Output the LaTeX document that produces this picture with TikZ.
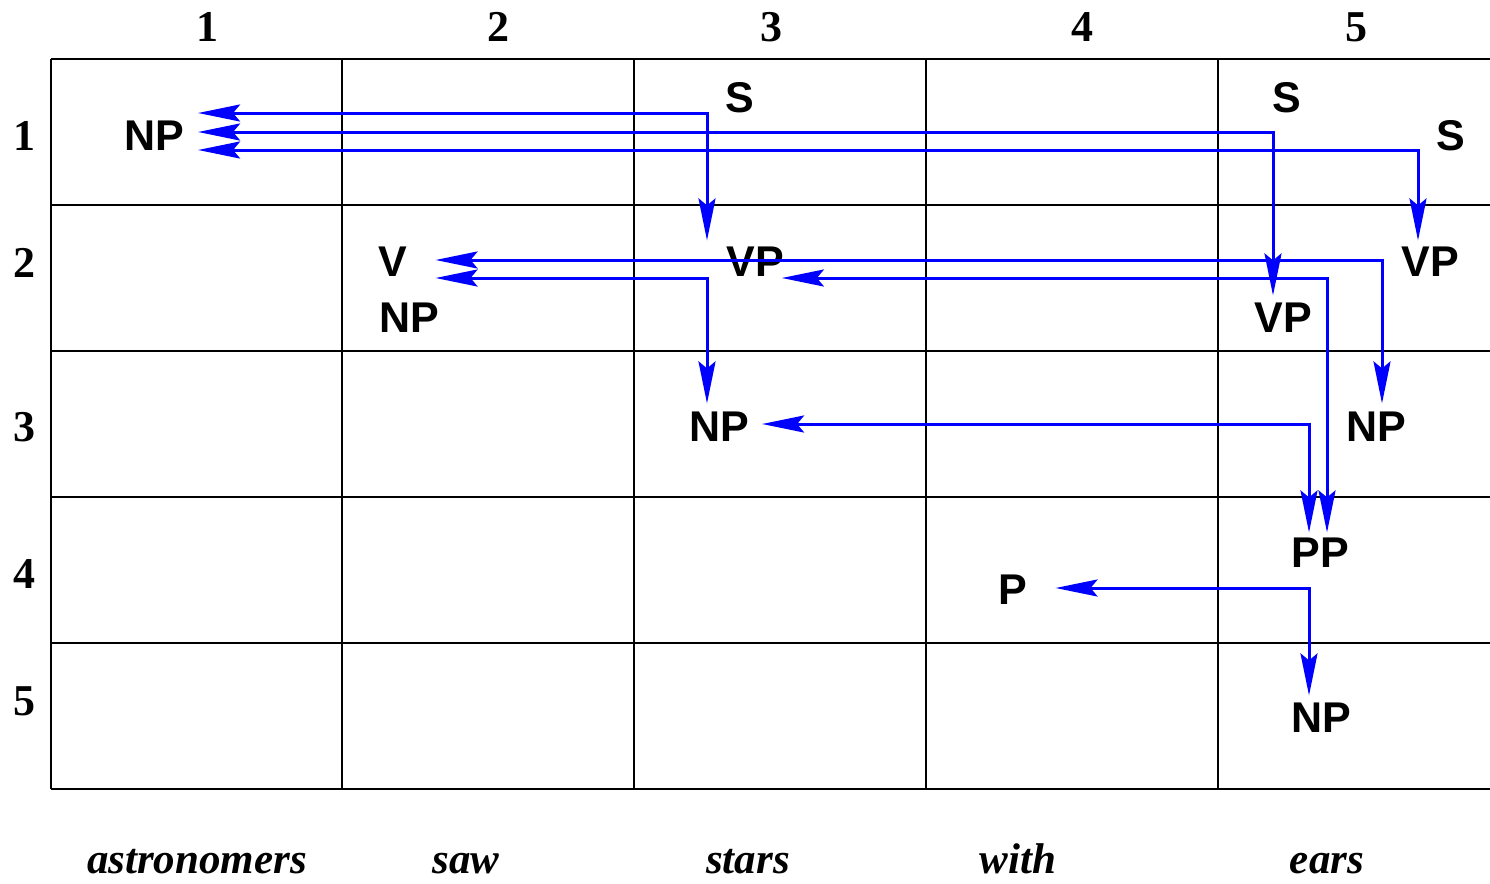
\documentclass[tikz,border=0pt]{standalone}
\usepackage{fontspec}
\setmainfont{Liberation Serif}
\newfontfamily\labfont{Liberation Sans}
\usetikzlibrary{arrows.meta}
\begin{document}
\begin{tikzpicture}[x=1pt,y=-1pt,
  gridline/.style={line width=1.4pt,black},
  cat/.style={font=\labfont\bfseries\fontsize{43}{43}\selectfont, inner sep=0pt},
  idx/.style={font=\bfseries\fontsize{44}{44}\selectfont, inner sep=0pt},
  word/.style={font=\bfseries\itshape\fontsize{43}{43}\selectfont, inner sep=0pt, anchor=base},
  link/.style={draw=blue, line width=3pt, line join=miter,
    {Stealth[length=42pt,width=17pt,inset=7pt]}-{Stealth[length=42pt,width=17pt,inset=7pt]}}
]
\useasboundingbox (0,0) rectangle (1490,883);
% grid
\foreach \x in {51,342,634,926,1218} \draw[gridline] (\x,59) -- (\x,789);
\foreach \y in {59,205,351,497,643,789} \draw[gridline] (51,\y) -- (1490,\y);
% column / row indices
\node[idx] (c1) at (207,27) {1};
\node[idx] (c2) at (498,27) {2};
\node[idx] (c3) at (771,27) {3};
\node[idx] (c4) at (1082,27) {4};
\node[idx] (c5) at (1356,27) {5};
\node[idx] (r1) at (24,136) {1};
\node[idx] (r2) at (24,263) {2};
\node[idx] (r3) at (24,427) {3};
\node[idx] (r4) at (24,574) {4};
\node[idx] (r5) at (24,701) {5};
% words
\node[word] (w1) at (197,873) {astronomers};
\node[word] (w2) at (466,873) {saw};
\node[word] (w3) at (748,873) {stars};
\node[word] (w4) at (1018,873) {with};
\node[word] (w5) at (1327,873) {ears};
% categories
\node[cat] (np11) at (154,136) {NP};
\node[cat] (s13) at (740,98) {S};
\node[cat] (s15a) at (1287,98) {S};
\node[cat] (s15b) at (1451,136) {S};
\node[cat] (v22) at (393,262) {V};
\node[cat] (np22) at (409,318) {NP};
\node[cat] (vp23) at (755,262) {VP};
\node[cat] (vp25a) at (1283,318) {VP};
\node[cat] (vp25b) at (1430,262) {VP};
\node[cat] (np33) at (719,427) {NP};
\node[cat] (np35) at (1376,427) {NP};
\node[cat] (pp45) at (1320,553) {PP};
\node[cat] (p44) at (1013,590) {P};
\node[cat] (np55) at (1321,718) {NP};
% corners of the back-pointers
\coordinate (k1) at (707,113);
\coordinate (k2) at (1273,132);
\coordinate (k3) at (1418,150);
\coordinate (k4) at (1382,260);
\coordinate (k5) at (707,278);
\coordinate (k6) at (1327,278);
\coordinate (k7) at (1309,424);
\coordinate (k8) at (1309,588);
% back-pointers
\draw[link] ([xshift=14pt]np11.east |- k1) -- (k1) -- ([yshift=6.6pt]vp23.north -| k1);
\draw[link] ([xshift=14pt]np11.east |- k2) -- (k2) -- ([yshift=7.6pt]vp25a.north -| k2);
\draw[link] ([xshift=14pt]np11.east |- k3) -- (k3) -- ([yshift=6.6pt]vp25b.north -| k3);
\draw[link] ([xshift=28pt]v22.east |- k4) -- (k4) -- ([yshift=8.6pt]np35.north -| k4);
\draw[link] ([xshift=28pt]v22.east |- k5) -- (k5) -- ([yshift=8.6pt]np33.north -| k5);
\draw[link] ([xshift=-2pt]vp23.east |- k6) -- (k6) -- ([yshift=5.6pt]pp45.north -| k6);
\draw[link] ([xshift=13pt]np33.east |- k7) -- (k7) -- ([yshift=5.6pt]pp45.north -| k7);
\draw[link] ([xshift=28pt]p44.east |- k8) -- (k8) -- ([yshift=7.6pt]np55.north -| k8);
\end{tikzpicture}
\end{document}
